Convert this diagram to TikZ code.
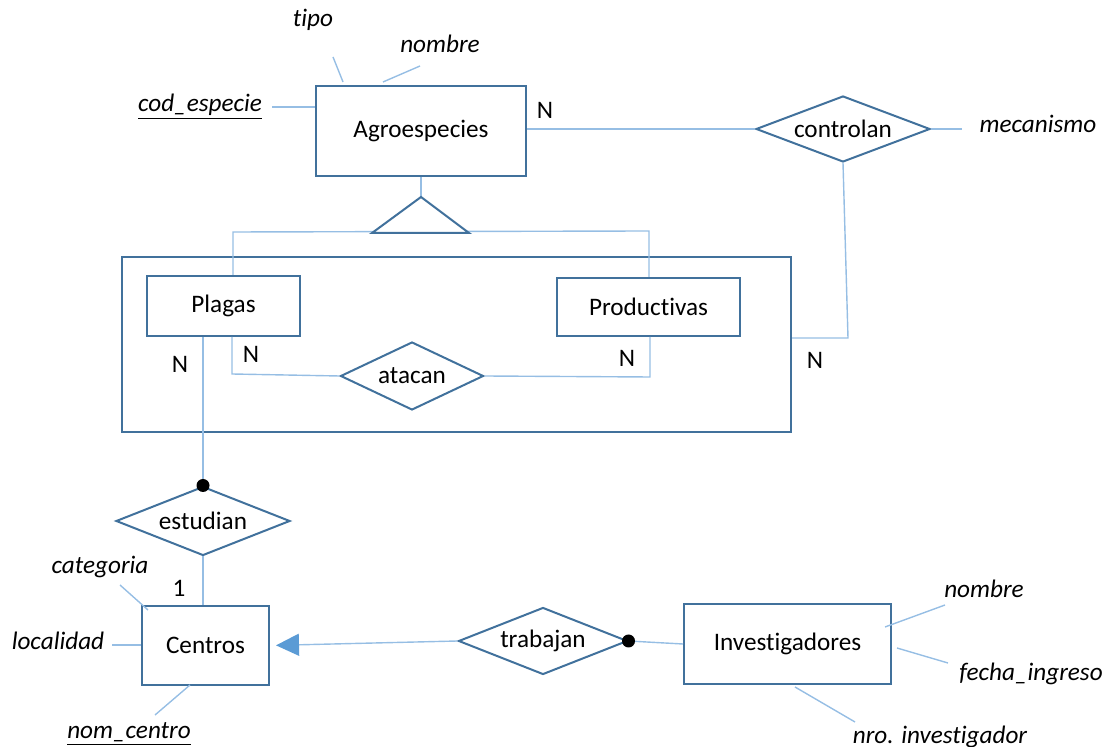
\documentclass[tikz,border=0pt]{standalone}
\usepackage{fontspec}
\setmainfont{Carlito}[Ligatures={NoCommon,NoContextual}, Contextuals=NoAlternate]
\usetikzlibrary{positioning,shapes.geometric,arrows.meta,calc}

\definecolor{entblue}{RGB}{65,113,156}
\definecolor{lnblue}{RGB}{150,190,228}
\definecolor{tipblue}{RGB}{91,155,213}

\tikzset{
  entity/.style={draw=entblue, line width=1pt, inner sep=0pt},
  rel/.style={diamond, draw=entblue, line width=1pt, aspect=2.6, inner sep=0pt},
  attr/.style={font=\fontsize{12.6}{15}\selectfont\itshape, inner sep=1pt},
  card/.style={inner sep=1pt},
  conn/.style={draw=lnblue, line width=0.7pt},
  blackdot/.style={circle, fill=black, inner sep=0pt, minimum size=6.5pt}
}

\begin{document}
\begin{tikzpicture}[x=0.5pt, y=-0.5pt, font=\fontsize{12.6}{15}\selectfont]

  \useasboundingbox (0,0) rectangle (1108,747);

  % aggregation box
  \node[entity, minimum width=334.5pt, minimum height=87.5pt] (agg) at (456.5,344.5) {};

  % entities
  \node[entity, minimum width=105pt, minimum height=45pt] (agro) at (421,131) {Agroespecies};
  \node[entity, minimum width=76.5pt, minimum height=30pt] (plagas) at (223.5,306) {Plagas};
  \node[entity, minimum width=91.5pt, minimum height=29pt] (prod) at (648.5,307) {Productivas};
  \node[entity, minimum width=63.5pt, minimum height=39.5pt] (centros) at (205.5,645.5) {Centros};
  \node[entity, minimum width=103.5pt, minimum height=40pt] (invest) at (787.5,644) {Investigadores};

  % relationships
  \node[rel, minimum width=87pt, minimum height=33pt] (ctrl) at (843,129) {controlan};
  \node[rel, minimum width=71.5pt, minimum height=34pt] (atacan) at (412,376) {atacan};
  \node[rel, minimum width=87pt, minimum height=34.5pt] (estudian) at (203,521) {estudian};
  \node[rel, minimum width=84.5pt, minimum height=33.5pt] (trabajan) at (543,641) {trabajan};

  % attributes
  \node[attr] (tipo) at (313,20) {tipo};
  \node[attr] (nomA) at (440,44) {nombre};
  \node[attr] (cod) at (200,107) {\underline{cod\_especie}};
  \node[attr] (mec) at (1038,124) {mecanismo};
  \node[attr] (cat) at (100,567) {categoria};
  \node[attr] (loc) at (58,641) {localidad};
  \node[attr] (nomC) at (129,734) {\underline{nom\_centro}};
  \node[attr] (nomI) at (984,589) {nombre};
  \node[attr] (fecha) at (1031,674) {fecha\_ingreso};
  \node[attr] (nro) at (940,737) {nro. investigador};

  % cardinalities
  \node[card] (nAgro) at (545,110) {N};
  \node[card] (nAgg) at (815,360) {N};
  \node[card] (nPlE) at (180,364) {N};
  \node[card] (nPlA) at (251,354) {N};
  \node[card] (nPrA) at (627,358) {N};
  \node[card] (oneC) at (179,588) {1};

  % attribute lines
  \coordinate (tipoA) at (333,57);
  \coordinate (tipoB) at (343,82);
  \coordinate (nomAA) at (420,66);
  \coordinate (nomAB) at (383,82);
  \coordinate (codA) at (272,107);
  \coordinate (mecA) at (962,129);
  \coordinate (catA) at (120,585);
  \coordinate (catB) at (148,610);
  \coordinate (locA) at (112,645);
  \coordinate (nomCA) at (155,715);
  \coordinate (nomCB) at (190,685);
  \coordinate (nomIA) at (945,605);
  \coordinate (nomIB) at (885,627);
  \coordinate (fechaA) at (948,663);
  \coordinate (fechaB) at (897,648);
  \coordinate (nroA) at (855,722);
  \coordinate (nroB) at (795,687);

  \draw[conn] (tipoA) -- (tipoB);
  \draw[conn] (nomAA) -- (nomAB);
  \draw[conn] (codA) -- (codA -| agro.west);
  \draw[conn] (ctrl.east) -- (mecA);
  \draw[conn] (catA) -- (catB);
  \draw[conn] (locA) -- (locA -| centros.west);
  \draw[conn] (nomCA) -- (nomCB);
  \draw[conn] (nomIA) -- (nomIB);
  \draw[conn] (fechaA) -- (fechaB);
  \draw[conn] (nroA) -- (nroB);

  % controlan
  \coordinate (ctrlJ) at (848,338);
  \draw[conn] (ctrl.west -| agro.east) -- (ctrl.west);
  \draw[conn] (ctrl.south) -- (ctrlJ) -- (ctrlJ -| agg.east);

  % specialisation
  \coordinate (isa) at (421,197);
  \coordinate (isL) at (233,232);
  \coordinate (isR) at (649,231);
  \draw[conn] (agro.south) -- (isa);
  \draw[conn] (isL |- plagas.north) -- (isL) -- (isR) -- (isR |- prod.north);
  \draw[entblue, line width=1pt, fill=white] (isa) -- (372,233) -- (469,233) -- cycle;

  % atacan
  \coordinate (plA) at (232,374);
  \coordinate (prA) at (650,377);
  \draw[conn] (plA |- plagas.south) -- (plA) -- (atacan.west);
  \draw[conn] (prA |- prod.south) -- (prA) -- (atacan.east);

  % estudian
  \draw[conn] (estudian.north |- plagas.south) -- (estudian.north);
  \draw[conn] (estudian.south) -- (estudian.south |- centros.north);
  \node[blackdot] at (estudian.north) {};

  % trabajan
  \draw[conn, -{Triangle[width=11pt, length=11.5pt, fill=tipblue, color=tipblue]}, shorten >=3pt] (trabajan.west) -- (centros.east);
  \draw[conn] (trabajan.east) -- (invest.west);
  \node[blackdot] at (trabajan.east) {};

\end{tikzpicture}
\end{document}
